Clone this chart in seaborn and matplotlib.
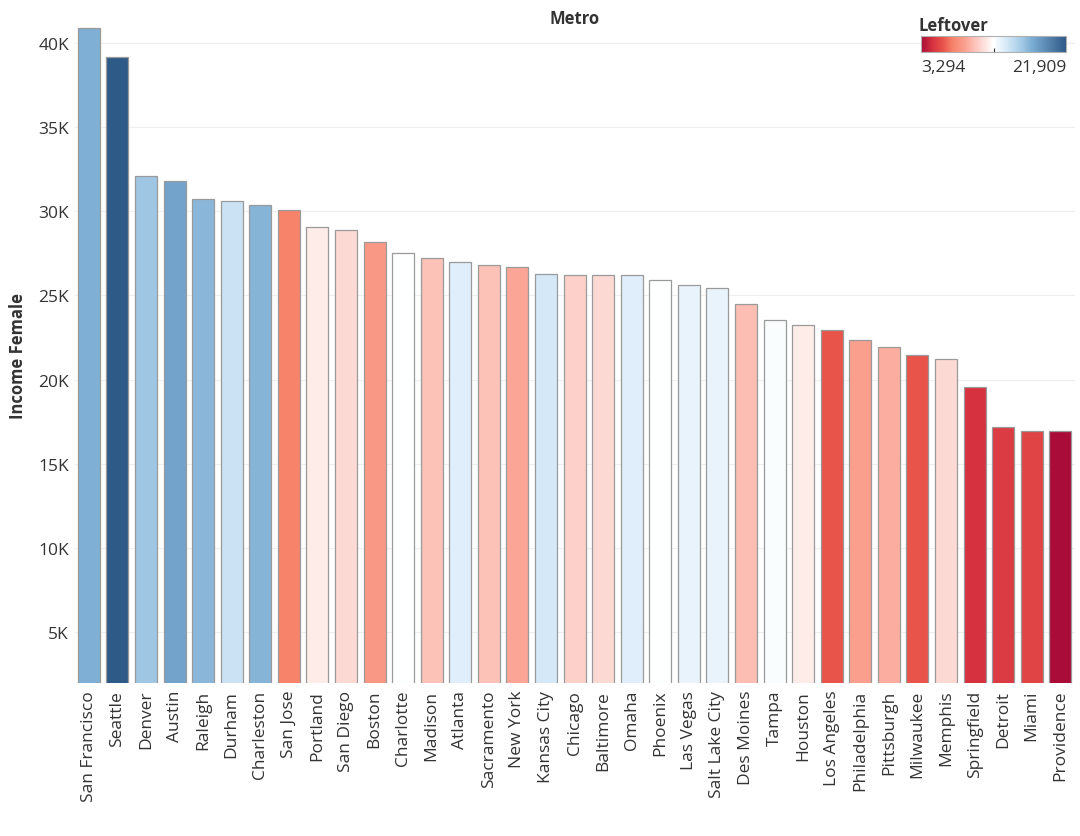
import matplotlib
matplotlib.use('Agg')
import matplotlib.pyplot as plt
import seaborn as sns
import numpy as np
import pandas as pd
from matplotlib.colors import LinearSegmentedColormap, Normalize
from matplotlib.cm import ScalarMappable
from matplotlib.ticker import FuncFormatter

# 数据：城市、女性收入、Leftover（颜色）
metros = ['San Francisco', 'Seattle', 'Denver', 'Austin', 'Raleigh', 'Durham', 'Charleston',
          'San Jose', 'Portland', 'San Diego', 'Boston', 'Charlotte', 'Madison', 'Atlanta',
          'Sacramento', 'New York', 'Kansas City', 'Chicago', 'Baltimore', 'Omaha', 'Phoenix',
          'Las Vegas', 'Salt Lake City', 'Des Moines', 'Tampa', 'Houston', 'Los Angeles',
          'Philadelphia', 'Pittsburgh', 'Milwaukee', 'Memphis', 'Springfield', 'Detroit',
          'Miami', 'Providence']
income_female = [40920, 39170, 32110, 31790, 30770, 30600, 30360,
                 30100, 29100, 28900, 28200, 27540, 27220, 27000,
                 26830, 26690, 26290, 26210, 26210, 26210, 25900,
                 25640, 25460, 24490, 23570, 23240, 22960,
                 22380, 21930, 21470, 21250, 19580, 17200,
                 16960, 16960]
leftover = [17441, 21909, 16325, 18000, 17069, 14649, 17255,
            7389, 11857, 11112, 8506, 12602, 10182, 13905,
            10182, 9065, 14277, 10740, 11112, 13905, 12602,
            13532, 13532, 9995, 12788, 11857, 6086,
            8879, 9437, 6086, 11112, 4783, 5156,
            5528, 3294]

df = pd.DataFrame({'Metro': metros, 'Income Female': income_female, 'Leftover': leftover})

# 仿 Tableau 红-蓝发散色板
cmap = LinearSegmentedColormap.from_list('redblue', [
    (0.00, '#a90c38'), (0.08, '#d6323f'), (0.15, '#e8534a'), (0.22, '#f7836a'),
    (0.30, '#faa08f'), (0.40, '#fdd0ca'), (0.50, '#ffffff'), (0.60, '#d1e6f7'),
    (0.70, '#a0c8e4'), (0.77, '#7aabd2'), (1.00, '#2e5a87')])
norm = Normalize(vmin=min(leftover), vmax=max(leftover))
palette = {m: cmap(norm(v)) for m, v in zip(metros, leftover)}

fs = 12.5
plt.rcParams['font.family'] = ['Open Sans', 'DejaVu Sans']
fig = plt.figure(figsize=(10.8, 8.37), dpi=100)
ax = fig.add_axes([0.069, 0.183, 0.926, 0.784])

sns.barplot(data=df, x='Metro', y='Income Female', hue='Metro', palette=palette,
            saturation=1, legend=False, width=0.77, edgecolor='#9a9a9a', linewidth=0.9,
            ax=ax, zorder=2)

ax.set_ylim(1950, 41000)
ax.set_xlim(-0.5, len(metros) - 0.5)
ax.set_yticks(np.arange(5000, 40001, 5000))
ax.yaxis.set_major_formatter(FuncFormatter(lambda v, p: f'{int(v / 1000)}K'))
ax.grid(axis='y', color='#efefef', linewidth=0.8, zorder=0)
ax.set_axisbelow(True)
for s in ax.spines.values():
    s.set_visible(False)
ax.tick_params(axis='both', length=0, labelsize=fs, colors='#333333', pad=4)
ax.tick_params(axis='x', rotation=90, pad=5)
ax.set_xlabel('')
ax.set_ylabel('Income Female', fontsize=fs - 0.5, fontweight='bold', color='#333333', labelpad=8)
ax.set_title('Metro', fontsize=fs - 0.5, fontweight='bold', color='#333333', pad=1)

# 颜色图例
cax = fig.add_axes([921 / 1080, 1 - 53 / 837, 145 / 1080, 16 / 837])
cb = fig.colorbar(ScalarMappable(norm=norm, cmap=cmap), cax=cax, orientation='horizontal')
cb.outline.set_edgecolor('#b0b0b0')
cb.set_ticks([(min(leftover) + max(leftover)) / 2])
cb.ax.tick_params(length=3, labelbottom=False, color='#333333', direction='in')
cax.text(0, -0.45, f'{min(leftover):,}', transform=cax.transAxes, ha='left', va='top',
         fontsize=fs, color='#333333')
cax.text(1, -0.45, f'{max(leftover):,}', transform=cax.transAxes, ha='right', va='top',
         fontsize=fs, color='#333333')
cax.text(-0.02, 1.15, 'Leftover', transform=cax.transAxes, ha='left', va='bottom',
         fontsize=fs - 0.5, fontweight='bold', color='#333333')

plt.savefig('out.png', dpi=100)
